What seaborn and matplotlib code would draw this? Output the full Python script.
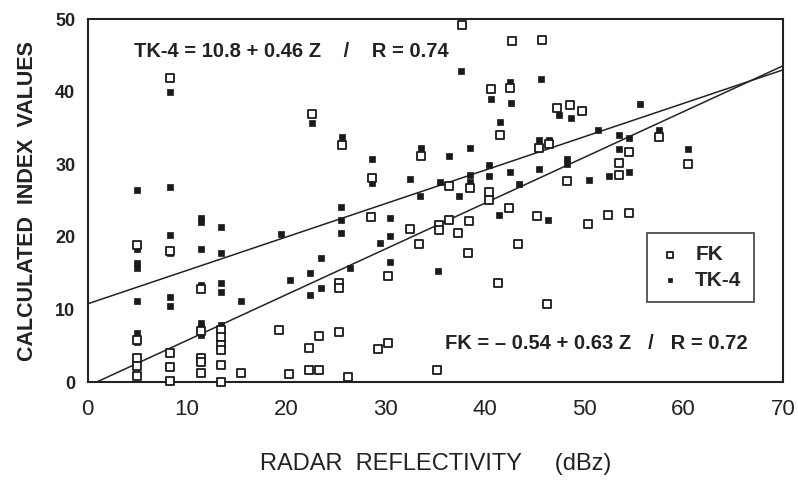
import matplotlib
matplotlib.use("Agg")
import matplotlib.pyplot as plt
import seaborn as sns
import numpy as np
import pandas as pd

# ---- data ----
fk_x = [5, 5, 5, 5, 5,
        8.3, 8.3, 8.3, 8.3, 8.3,
        11.4, 11.4, 11.4, 11.4, 11.4,
        13.4, 13.4, 13.4, 13.4, 13.4, 13.4,
        15.4,
        19.3, 20.3, 22.3, 22.3, 23.3, 23.3,
        25.3, 25.3, 25.3, 26.2,
        28.5, 29.2, 30.2, 30.2, 32.5, 33.4,
        22.6, 25.6, 28.6, 33.6,
        37.7, 42.7, 45.7, 42.5, 40.6, 41.5,
        47.3, 48.6, 49.8,
        38.5, 36.4, 45.4, 46.4, 48.3,
        40.4, 40.4, 36.4, 35.4, 35.4, 37.3, 38.4, 38.3, 42.4, 45.2, 50.4,
        43.3, 41.3, 46.2, 35.2,
        57.5, 54.5, 60.4, 53.5, 53.5,
        52.4, 54.5]
fk_y = [18.9, 5.8, 3.4, 2.2, 0.8,
        41.9, 18.1, 4.0, 2.1, 0.2,
        12.8, 7.0, 3.4, 2.8, 1.2,
        7.2, 6.2, 5.1, 4.4, 2.3, 0.0,
        1.2,
        7.2, 1.1, 4.7, 1.7, 6.3, 1.7,
        13.7, 13.0, 6.9, 0.7,
        22.8, 4.6, 5.4, 14.6, 21.1, 19.0,
        37.0, 32.7, 28.1, 31.2,
        49.2, 47.0, 47.1, 40.5, 40.4, 34.0,
        37.8, 38.2, 37.4,
        26.8, 27.0, 32.3, 32.8, 27.7,
        26.2, 25.1, 22.4, 21.7, 20.9, 20.6, 22.2, 17.8, 24.0, 22.9, 21.8,
        19.0, 13.7, 10.7, 1.7,
        33.7, 31.7, 30.0, 30.2, 28.6,
        23.0, 23.3]

tk_x = [5, 5, 5, 5, 5, 5, 5,
        8.3, 8.3, 8.3, 8.3, 8.3, 8.3,
        11.4, 11.4, 11.4, 11.4, 11.4, 11.4, 11.4,
        13.4, 13.4, 13.4, 13.4, 13.4,
        15.4,
        19.5, 20.4, 22.4, 22.4, 23.5, 23.5, 25.5, 25.5, 25.5, 26.4,
        29.4, 30.4, 30.4, 30.4, 33.5,
        22.6, 25.6, 28.6, 28.6, 32.5, 33.6,
        37.6, 42.5, 45.6, 40.6, 42.6, 41.5,
        47.5, 48.7, 49.9,
        36.4, 38.5, 40.4, 40.4, 38.5, 38.5, 35.5, 42.5, 45.4, 45.4, 46.4,
        48.3, 48.3, 50.5, 51.4,
        37.4, 43.4, 41.4, 46.3, 35.3,
        55.6, 53.5, 54.5, 57.5, 53.5, 60.4, 54.5, 52.5]
tk_y = [26.5, 18.3, 16.4, 15.7, 11.2, 6.8, 5.5,
        39.9, 26.9, 20.3, 17.8, 11.7, 10.5,
        22.6, 22.1, 18.3, 13.4, 8.1, 7.6, 6.5,
        21.4, 17.8, 13.7, 12.4, 7.9,
        11.2,
        20.4, 14.1, 15.0, 12.0, 17.1, 13.0, 24.1, 22.3, 20.6, 15.7,
        19.2, 22.6, 20.1, 16.6, 25.7,
        35.7, 33.7, 27.4, 30.8, 28.0, 32.3,
        42.8, 41.3, 41.7, 39.0, 38.5, 35.9,
        36.8, 36.4, 37.3,
        31.2, 32.2, 29.9, 28.4, 28.5, 27.6, 27.6, 28.9, 29.4, 33.4, 33.4,
        30.8, 30.0, 27.9, 34.7,
        25.6, 27.3, 23.0, 22.3, 15.3,
        38.3, 34.0, 33.6, 34.7, 32.1, 32.1, 28.9, 28.4]

# regression fits: intercept, slope, R
tk_fit = (10.8, 0.46, 0.74)
fk_fit = (-0.54, 0.63, 0.72)
x_ticks = [0, 10, 20, 30, 40, 50, 60, 70]
y_ticks = [0, 10, 20, 30, 40, 50]

sns.set_style("white")
plt.rcParams['font.family'] = ['Liberation Sans', 'DejaVu Sans']

fig = plt.figure(figsize=(7.98, 4.90), dpi=100)
ax = fig.add_axes([0.110, 0.220, 0.871, 0.741])

fk_df = pd.DataFrame({"x": fk_x, "y": fk_y})
tk_df = pd.DataFrame({"x": tk_x, "y": tk_y})

# regression lines
x0_tk = np.array([0, 70])
x0_fk = np.array([-fk_fit[0] / fk_fit[1], 70])
sns.lineplot(x=x0_tk, y=tk_fit[0] + tk_fit[1] * x0_tk, ax=ax, color="#222222", lw=1.1)
sns.lineplot(x=x0_fk, y=fk_fit[0] + fk_fit[1] * x0_fk, ax=ax, color="#222222", lw=1.1)

sns.scatterplot(data=tk_df, x="x", y="y", ax=ax, marker="s", s=20, color="#1a1a1a",
                edgecolor="#1a1a1a", linewidth=0.5, clip_on=False, zorder=3, label="TK-4")
sns.scatterplot(data=fk_df, x="x", y="y", ax=ax, marker="s", s=38, facecolor="white",
                edgecolor="#1a1a1a", linewidth=1.3, clip_on=False, zorder=4, label="FK")

ax.set_xlim(0, 70)
ax.set_ylim(0, 50)
ax.set_xticks(x_ticks)
ax.set_yticks(y_ticks)
ax.set_xticks(np.arange(0, 71, 5), minor=True)
ax.set_yticks(np.arange(0, 51, 5), minor=True)
ax.set_xticklabels([str(t) for t in x_ticks], fontsize=16)
ax.set_yticklabels([str(t) for t in y_ticks], fontsize=13, fontweight='bold')
ax.tick_params(axis='x', which='both', direction='inout', length=8, width=1.2, pad=8, colors="#222222")
ax.tick_params(axis='y', which='both', direction='out', length=5, width=1.2, pad=4, colors="#222222")
for side in ["top", "bottom", "left", "right"]:
    ax.spines[side].set_color("#222222")
    ax.spines[side].set_linewidth(1.5)

ax.set_xlabel("RADAR  REFLECTIVITY     (dBz)", fontsize=17, labelpad=24, color="#222222")
ax.set_ylabel("CALCULATED  INDEX  VALUES", fontsize=15.5, fontweight='bold', labelpad=12, color="#222222")

ax.text(4.7, 45.5, f"TK-4 = {tk_fit[0]} + {tk_fit[1]} Z    /    R = {tk_fit[2]}",
        fontsize=14.5, fontweight='bold', color="#222222", va='center')
ax.text(36.0, 5.3, f"FK = \u2013 {abs(fk_fit[0])} + {fk_fit[1]} Z   /   R = {fk_fit[2]}",
        fontsize=14.5, fontweight='bold', color="#222222", va='center')

handles, labels = ax.get_legend_handles_labels()
order = [labels.index("FK"), labels.index("TK-4")]
leg = ax.legend([handles[i] for i in order], [labels[i] for i in order],
                loc='upper left', bbox_to_anchor=(0.79, 0.44), frameon=True, fancybox=False,
                prop={'size': 15, 'weight': 'bold'}, handletextpad=0.7, borderpad=0.6,
                labelspacing=0.3, handlelength=1.0, markerscale=0.75)
leg.get_frame().set_edgecolor("#222222")
leg.get_frame().set_linewidth(1.3)

fig.savefig("out.png", dpi=100, facecolor="white")
